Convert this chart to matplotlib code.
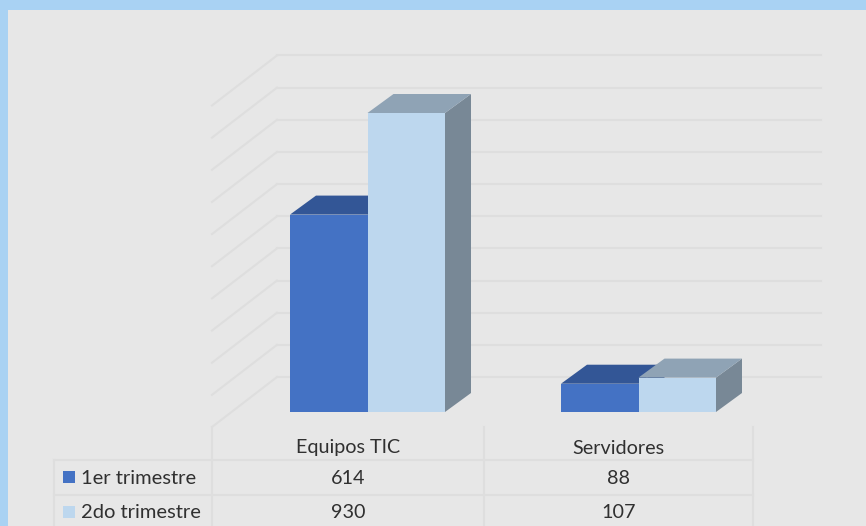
import matplotlib
matplotlib.use('Agg')
import matplotlib.pyplot as plt
from matplotlib.patches import Polygon, Rectangle

categories = ['Equipos TIC', 'Servidores']
series_names = ['1er trimestre', '2do trimestre']
trim1 = [614, 88]
trim2 = [930, 107]
grid_ticks = list(range(0, 1100, 100))

front_cols = ['#4472C4', '#BDD7EE']
top_cols = ['#335696', '#8FA3B5']
side_cols = ['#33558F', '#788896']
grid_col = '#DEDEDE'
txt_col = '#303030'

plt.rcParams['font.family'] = ['Lato', 'DejaVu Sans']

W, H = 866, 526
fig = plt.figure(figsize=(W / 100, H / 100), dpi=100, facecolor='#A9D2F3')

# pixel layer for panel and table
bg = fig.add_axes([0, 0, 1, 1], zorder=0)
bg.set_xlim(0, W)
bg.set_ylim(H, 0)
bg.axis('off')
bg.add_patch(Rectangle((8, 10), W, H, fc='#E7E7E7', ec='none'))

# data layer, scaled so that 0 and 930 fall on the bar base and top
px_per_val = (412 - 113) / 930
px_per_cat = 271
ax = fig.add_axes([0, 0, 1, 1], zorder=1)
ax.patch.set_visible(False)
ax.axis('off')
ax.set_xlim(-367.5 / px_per_cat, (W - 367.5) / px_per_cat)
ax.set_ylim((412 - H) / px_per_val, 412 / px_per_val)

bar_w = 77.5 / px_per_cat
dep_x = 26 / px_per_cat
dep_y = 19 / px_per_val

# walls
wall_x0 = (277 - 367.5) / px_per_cat
wall_x1 = (821 - 367.5) / px_per_cat
wall_y = 35 / px_per_val
side_x = -65 / px_per_cat
side_y = -50 / px_per_val
for t in grid_ticks:
    y = t + wall_y
    ax.plot([wall_x0, wall_x1], [y, y], color=grid_col, lw=1.5, zorder=1)
    ax.plot([wall_x0, wall_x0 + side_x], [y, y + side_y], color=grid_col, lw=1.5, zorder=1)

# bars
for i, vals in enumerate([trim1, trim2]):
    for c, v in enumerate(vals):
        x0 = c + (i - 1) * bar_w
        x1 = x0 + bar_w
        ax.add_patch(Polygon([(x1, 0), (x1 + dep_x, dep_y), (x1 + dep_x, v + dep_y), (x1, v)],
                             fc=side_cols[i], ec='none', zorder=2 + i))
        ax.add_patch(Polygon([(x0, v), (x0 + dep_x, v + dep_y), (x1 + dep_x, v + dep_y), (x1, v)],
                             fc=top_cols[i], ec='none', zorder=2 + i))
        ax.add_patch(Rectangle((x0, 0), bar_w, v, fc=front_cols[i], ec='none', zorder=2 + i))

# data table
col_x = [212, 484, 753]
row_y = [460, 495]
for x in col_x:
    bg.plot([x, x], [427, H], color=grid_col, lw=1.5)
bg.plot([54, 54], [460, H], color=grid_col, lw=1.5)
for y in row_y:
    bg.plot([54, 753], [y, y], color=grid_col, lw=1.5)

fs = 14.2
for j, name in enumerate(categories):
    xc = (col_x[j] + col_x[j + 1]) / 2
    bg.text(xc, 448, name, ha='center', va='center', fontsize=fs, color=txt_col)
    bg.text(xc, 478, trim1[j], ha='center', va='center', fontsize=fs, color=txt_col)
    bg.text(xc, 512.5, trim2[j], ha='center', va='center', fontsize=fs, color=txt_col)

for j, name in enumerate(series_names):
    yc = [477, 512][j]
    bg.add_patch(Rectangle((62.5, yc - 6), 12, 12, fc=front_cols[j], ec='none'))
    bg.text(81, yc + 1, name, ha='left', va='center', fontsize=fs + 0.3, color=txt_col)

fig.savefig('out.png', dpi=100, facecolor=fig.get_facecolor())
